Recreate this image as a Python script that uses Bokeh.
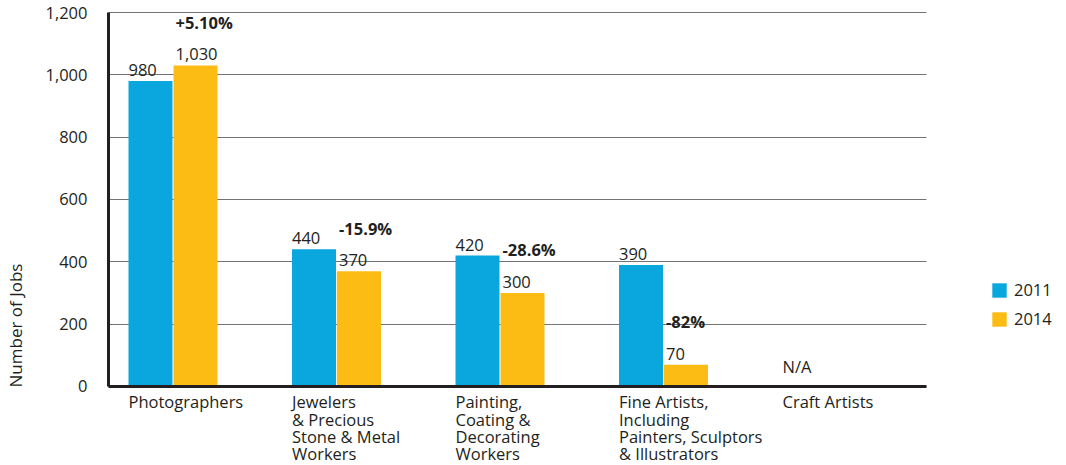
import math
from bokeh.plotting import figure
from bokeh.models import ColumnDataSource, LabelSet, Label, FixedTicker, NumeralTickFormatter, Range1d
from bokeh.core.properties import value
from bokeh.embed import file_html
from bokeh.resources import INLINE

# ---- data ----
categories = [
    "Photographers",
    "Jewelers\n& Precious\nStone & Metal\nWorkers",
    "Painting,\nCoating &\nDecorating\nWorkers",
    "Fine Artists,\nIncluding\nPainters, Sculptors\n& Illustrators",
    "Craft Artists",
]
jobs_2011 = [980, 440, 420, 390, None]
jobs_2014 = [1030, 370, 300, 70, None]
labels_2011 = ["980", "440", "420", "390", None]
labels_2014 = ["1,030", "370", "300", "70", None]
changes = ["+5.10%", "-15.9%", "-28.6%", "-82%", None]
missing_label = "N/A"
y_ticks = [0, 200, 400, 600, 800, 1000, 1200]
y_title = "Number of Jobs"

# ---- style ----
FONT = "Open Sans"
TXT = "#231f20"
BLUE = "#0aa6de"
YELLOW = "#fcbc14"
FS = "16.5px"

bar_w = 0.269
off = 0.1376

idx = list(range(len(categories)))
have = [i for i in idx if jobs_2011[i] is not None]

src11 = ColumnDataSource(dict(
    x=[i - off for i in have],
    xl=[i - off - bar_w / 2 for i in have],
    top=[jobs_2011[i] for i in have],
    lab=[labels_2011[i] for i in have],
))
src14 = ColumnDataSource(dict(
    x=[i + off for i in have],
    xl=[i + off - bar_w / 2 for i in have],
    top=[jobs_2014[i] for i in have],
    lab=[labels_2014[i] for i in have],
    chg=[changes[i] for i in have],
))
cat_src = ColumnDataSource(dict(
    x=[i - off - bar_w / 2 for i in idx],
    y=[0] * len(idx),
    t=categories,
))

x_start = -1.05505     # canvas left edge
x_axis = -0.3945       # value axis position
x_axis_end = 4.6086    # end of baseline / gridlines
x_end = 5.4648         # canvas right edge
y_start = -253.5       # canvas bottom edge
y_end = 1238.5         # canvas top edge

p = figure(width=1066, height=465, output_backend="svg", toolbar_location=None,
           x_range=Range1d(x_start, x_end), y_range=Range1d(y_start, y_end),
           min_border_left=0, min_border_right=0, min_border_top=0, min_border_bottom=0)
p.outline_line_color = None
p.background_fill_color = "white"
p.border_fill_color = "white"

p.vbar(x="x", top="top", width=bar_w, source=src11, color=BLUE, line_color=None, legend_label="2011")
p.vbar(x="x", top="top", width=bar_w, source=src14, color=YELLOW, line_color=None, legend_label="2014")

# grid
p.xgrid.visible = False
p.ygrid.ticker = FixedTicker(ticks=y_ticks)
p.ygrid.bounds = (0, 1200)
p.ygrid.cross_bounds = (x_axis, x_axis_end)
p.ygrid.grid_line_color = "#737375"
p.ygrid.grid_line_width = 1

# value axis
yax = p.yaxis[0]
yax.fixed_location = x_axis
yax.ticker = FixedTicker(ticks=y_ticks)
yax.bounds = (0, 1200)
yax.formatter = NumeralTickFormatter(format="0,0")
yax.axis_line_color = TXT
yax.axis_line_width = 3
yax.major_tick_line_color = None
yax.minor_tick_line_color = None
yax.major_label_standoff = 15
yax.major_label_text_font = FONT
yax.major_label_text_font_size = FS
yax.major_label_text_color = TXT

# category axis line
xax = p.xaxis[0]
xax.fixed_location = 0
xax.bounds = (x_axis, x_axis_end)
xax.ticker = FixedTicker(ticks=[])
xax.axis_line_color = TXT
xax.axis_line_width = 3
xax.major_tick_line_color = None
xax.minor_tick_line_color = None
xax.major_label_text_font_size = "0px"

F = value(FONT)
# category labels (left aligned, multi-line)
p.add_layout(LabelSet(x="x", y="y", text="t", source=cat_src, text_align="left",
                      text_baseline="top", y_offset=-4, text_font=F, text_font_size=value(FS),
                      text_color=TXT, text_line_height=0.75))

# value labels
p.add_layout(LabelSet(x="xl", y="top", text="lab", source=src11, text_align="left",
                      text_baseline="bottom", y_offset=5, text_font=F, text_font_size=value(FS),
                      text_color=TXT))
p.add_layout(LabelSet(x="xl", y="top", text="lab", source=src14, text_align="left",
                      text_baseline="bottom", y_offset=5, x_offset=2, text_font=F,
                      text_font_size=value(FS), text_color=TXT))
# change labels
p.add_layout(LabelSet(x="xl", y="top", text="chg", source=src14, text_align="left",
                      text_baseline="middle", y_offset=43, x_offset=2, text_font=F,
                      text_font_size=value(FS), text_font_style="bold", text_color=TXT))

# N/A label for missing category
for i in idx:
    if jobs_2011[i] is None:
        p.add_layout(Label(x=i - off - bar_w / 2, y=0, text=missing_label, text_align="left",
                           text_baseline="bottom", y_offset=8, text_font=FONT,
                           text_font_size=FS, text_color=TXT))

# value axis title
p.add_layout(Label(x=x_start, y=0, x_offset=15, y_offset=61, text=y_title,
                   angle=math.pi / 2, text_align="center", text_baseline="middle",
                   text_font=FONT, text_font_size="17px", text_color=TXT))

# legend
lg = p.legend[0]
lg.location = (990, 135)
lg.margin = 0
lg.padding = 0
lg.spacing = 6
lg.glyph_width = 18
lg.glyph_height = 18
lg.label_height = 18
lg.label_standoff = 6
lg.label_text_font = FONT
lg.label_text_font_size = FS
lg.label_text_color = TXT
lg.label_text_baseline = "middle"
lg.border_line_color = None
lg.background_fill_alpha = 0

open("out.html", "w").write(file_html(p, INLINE))
